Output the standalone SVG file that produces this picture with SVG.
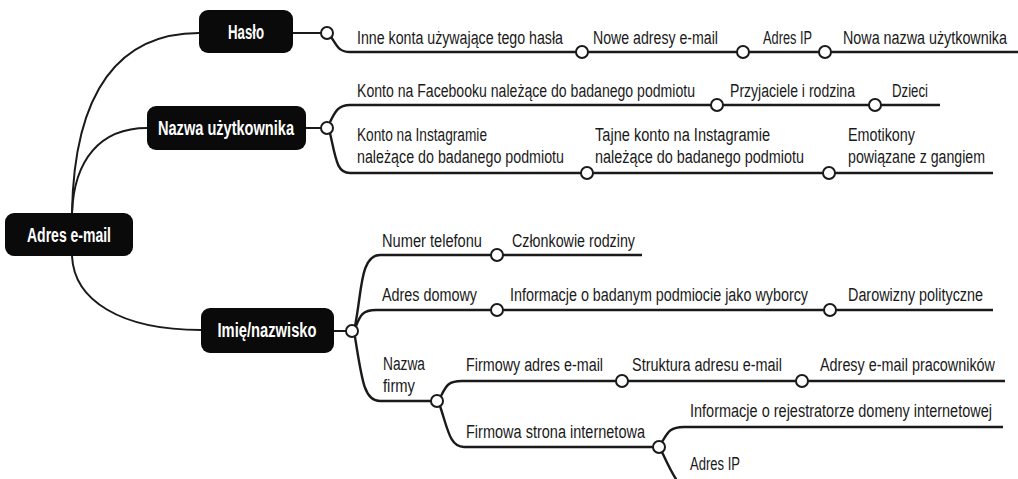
<svg xmlns="http://www.w3.org/2000/svg" width="1018" height="479" viewBox="0 0 1018 479">
<style>
.box{fill:#0a0a0a;}
.bt{font-family:"Liberation Sans Narrow","Liberation Sans",Arial,sans-serif;font-size:20px;font-weight:bold;fill:#fff;text-anchor:middle;}
.lt{font-family:"Liberation Sans Narrow","Liberation Sans",Arial,sans-serif;font-size:18px;fill:#1a1a1a;}
.c{fill:none;stroke:#1a1a1a;stroke-width:2;}
.ln{fill:none;stroke:#1a1a1a;stroke-width:2.4;}
.dot{fill:#fff;stroke:#1a1a1a;stroke-width:2;}
</style>
<rect width="1018" height="479" fill="#fff"/>
<g id="connectors">
  <path class="c" d="M72,213 C74,90 120,33 199,33"/>
  <path class="c" d="M72,213 C74,160 100,128 147,128"/>
  <path class="c" d="M72,256 C74,300 120,330 201,330"/>
  <path class="c" d="M293,33 L321,33"/>
  <path class="c" d="M306,128 L321,128"/>
  <path class="c" d="M334,331 L346,331"/>
  <path class="ln" d="M331,37 C337,45 338,52 350,52 L1018,52"/>
  <path class="ln" d="M330,122 C335,112 338,105 350,105 L940,105"/>
  <path class="ln" d="M330,133 C336,160 337,173 350,173 L993,173"/>
  <path class="ln" d="M355,326 C362,292 360,255 380,255 L642,255"/>
  <path class="ln" d="M356,326 C360,316 362,310 376,310 L993,310"/>
  <path class="ln" d="M355,337 C362,380 364,401 380,401 L431,401"/>
  <path class="ln" d="M441,396 C446,386 448,381 462,381 L1005,381"/>
  <path class="ln" d="M440,406 C448,430 450,447 464,447 L653,447"/>
  <path class="ln" d="M662,442 C668,432 670,427 684,427 L1003,427"/>
  <path class="ln" d="M662,452 C668,465 672,474 678,482"/>
</g>
<g id="n-root"><rect class="box" x="5" y="213" width="128" height="43" rx="9"/><text class="bt" x="69" y="242" textLength="84" lengthAdjust="spacingAndGlyphs">Adres e-mail</text></g>
<g id="n-haslo"><rect class="box" x="199" y="10" width="94" height="43" rx="9"/><text class="bt" x="246" y="39" textLength="36" lengthAdjust="spacingAndGlyphs">Hasło</text><circle class="dot" cx="327" cy="33" r="6"/></g>
<g id="n-nazwa"><rect class="box" x="147" y="106" width="159" height="44" rx="9"/><text class="bt" x="226" y="135" textLength="136" lengthAdjust="spacingAndGlyphs">Nazwa użytkownika</text><circle class="dot" cx="327" cy="128" r="6"/></g>
<g id="n-imie"><rect class="box" x="201" y="308" width="133" height="45" rx="9"/><text class="bt" x="267" y="337" textLength="99" lengthAdjust="spacingAndGlyphs">Imię/nazwisko</text><circle class="dot" cx="352" cy="331" r="6"/></g>
<g id="l-inne"><text class="lt" x="357" y="44" textLength="206" lengthAdjust="spacingAndGlyphs">Inne konta używające tego hasła</text><circle class="dot" cx="582" cy="52" r="6"/></g>
<g id="l-nowe"><text class="lt" x="593" y="44" textLength="125" lengthAdjust="spacingAndGlyphs">Nowe adresy e-mail</text><circle class="dot" cx="743" cy="52" r="6"/></g>
<g id="l-ip1"><text class="lt" x="763" y="44" textLength="49" lengthAdjust="spacingAndGlyphs">Adres IP</text><circle class="dot" cx="825" cy="52" r="6"/></g>
<g id="l-nowa"><text class="lt" x="843" y="44" textLength="164" lengthAdjust="spacingAndGlyphs">Nowa nazwa użytkownika</text></g>
<g id="l-fb"><text class="lt" x="357" y="97" textLength="338" lengthAdjust="spacingAndGlyphs">Konto na Facebooku należące do badanego podmiotu</text><circle class="dot" cx="717" cy="105" r="6"/></g>
<g id="l-przyj"><text class="lt" x="730" y="97" textLength="125" lengthAdjust="spacingAndGlyphs">Przyjaciele i rodzina</text><circle class="dot" cx="875" cy="105" r="6"/></g>
<g id="l-dzieci"><text class="lt" x="892" y="97" textLength="36" lengthAdjust="spacingAndGlyphs">Dzieci</text></g>
<g id="l-insta"><text class="lt" x="357" y="141" textLength="130" lengthAdjust="spacingAndGlyphs">Konto na Instagramie</text><text class="lt" x="357" y="163" textLength="207" lengthAdjust="spacingAndGlyphs">należące do badanego podmiotu</text><circle class="dot" cx="587" cy="173" r="6"/></g>
<g id="l-tajne"><text class="lt" x="595" y="141" textLength="175" lengthAdjust="spacingAndGlyphs">Tajne konto na Instagramie</text><text class="lt" x="595" y="163" textLength="209" lengthAdjust="spacingAndGlyphs">należące do badanego podmiotu</text><circle class="dot" cx="829" cy="173" r="6"/></g>
<g id="l-emot"><text class="lt" x="848" y="141" textLength="67" lengthAdjust="spacingAndGlyphs">Emotikony</text><text class="lt" x="848" y="163" textLength="137" lengthAdjust="spacingAndGlyphs">powiązane z gangiem</text></g>
<g id="l-tel"><text class="lt" x="382" y="247" textLength="100" lengthAdjust="spacingAndGlyphs">Numer telefonu</text><circle class="dot" cx="497" cy="255" r="6"/></g>
<g id="l-czl"><text class="lt" x="512" y="247" textLength="123" lengthAdjust="spacingAndGlyphs">Członkowie rodziny</text></g>
<g id="l-dom"><text class="lt" x="382" y="301" textLength="95" lengthAdjust="spacingAndGlyphs">Adres domowy</text><circle class="dot" cx="497" cy="310" r="6"/></g>
<g id="l-info"><text class="lt" x="510" y="301" textLength="298" lengthAdjust="spacingAndGlyphs">Informacje o badanym podmiocie jako wyborcy</text><circle class="dot" cx="830" cy="310" r="6"/></g>
<g id="l-dar"><text class="lt" x="848" y="301" textLength="135" lengthAdjust="spacingAndGlyphs">Darowizny polityczne</text></g>
<g id="l-firma"><text class="lt" x="383" y="370" textLength="42" lengthAdjust="spacingAndGlyphs">Nazwa</text><text class="lt" x="383" y="392" textLength="32" lengthAdjust="spacingAndGlyphs">firmy</text><circle class="dot" cx="437" cy="401" r="6"/></g>
<g id="l-fmail"><text class="lt" x="466" y="371" textLength="137" lengthAdjust="spacingAndGlyphs">Firmowy adres e-mail</text><circle class="dot" cx="622" cy="381" r="6"/></g>
<g id="l-strukt"><text class="lt" x="632" y="371" textLength="150" lengthAdjust="spacingAndGlyphs">Struktura adresu e-mail</text><circle class="dot" cx="802" cy="381" r="6"/></g>
<g id="l-prac"><text class="lt" x="820" y="371" textLength="175" lengthAdjust="spacingAndGlyphs">Adresy e-mail pracowników</text></g>
<g id="l-www"><text class="lt" x="466" y="438" textLength="179" lengthAdjust="spacingAndGlyphs">Firmowa strona internetowa</text><circle class="dot" cx="659" cy="447" r="6"/></g>
<g id="l-rej"><text class="lt" x="690" y="417" textLength="302" lengthAdjust="spacingAndGlyphs">Informacje o rejestratorze domeny internetowej</text></g>
<g id="l-ip2"><text class="lt" x="690" y="470" textLength="50" lengthAdjust="spacingAndGlyphs">Adres IP</text></g>
</svg>
